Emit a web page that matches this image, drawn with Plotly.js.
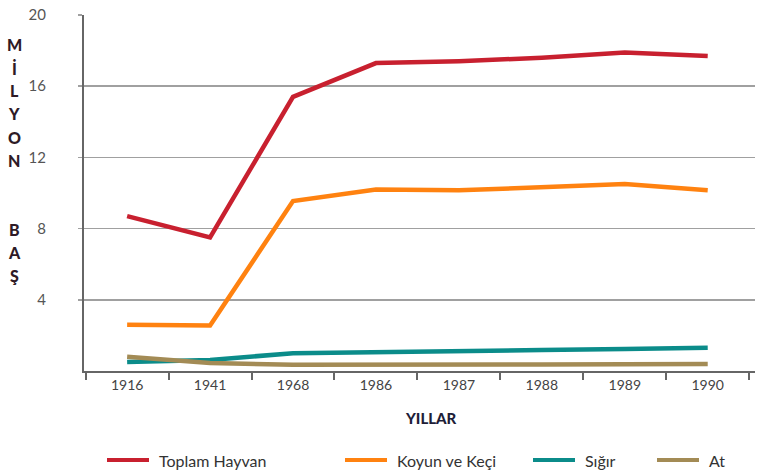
<!DOCTYPE html>
<html><head><meta charset="utf-8">
<script src="https://cdn.plot.ly/plotly-3.0.1.min.js"></script>
<style>body{margin:0;background:#fff}#c{width:759px;height:471px}</style>
</head><body><div id="c"></div>
<script>
const years = ["1916","1941","1968","1986","1987","1988","1989","1990"];
const toplamHayvan = [8.7, 7.5, 15.4, 17.3, 17.4, 17.6, 17.9, 17.7];
const koyunKeci   = [2.6, 2.55, 9.55, 10.2, 10.15, 10.3, 10.5, 10.15];
const sigir       = [0.5, 0.62, 1.0, 1.08, 1.13, 1.18, 1.24, 1.3];
const at          = [0.8, 0.45, 0.35, 0.34, 0.35, 0.36, 0.38, 0.39];
const seriesNames = ["Toplam Hayvan", "Koyun ve Keçi", "Sığır", "At"];
const yTicks = [4, 8, 12, 16, 20];
const yLetters = ["M","İ","L","Y","O","N","","","B","A","Ş"];

const colors = ["#c8202f", "#ff8210", "#0b8c8a", "#a38b55"];
const vals = [toplamHayvan, koyunKeci, sigir, at];
const traces = vals.map((v,i)=>({
  x: years, y: v, type:"scatter", mode:"lines", name: seriesNames[i],
  line:{color:colors[i], width:4.5}, showlegend:false
}));

const plotL = 84, plotR = 755, plotT = 15, plotB = 371;
const W = plotR - plotL, H = plotB - plotT;
const px = x => (x - plotL) / W;
const py = y => (plotB - y) / H;

// custom legend (pixel positions)
const legLineStart = [107, 345, 533, 657];
const legLineLen = 42;
const legY = 460;
const shapes = [];
const annotations = [];
seriesNames.forEach((n,i)=>{
  shapes.push({type:"line", xref:"paper", yref:"paper",
    x0:px(legLineStart[i]), x1:px(legLineStart[i]+legLineLen), y0:py(legY), y1:py(legY),
    line:{color:colors[i], width:4}});
  annotations.push({text:n, xref:"paper", yref:"paper", x:px(legLineStart[i]+legLineLen+8), y:py(legY),
    xanchor:"left", yanchor:"middle", showarrow:false,
    font:{family:"Lato, sans-serif", size:16, color:"#333"}});
});
yLetters.forEach((t,i)=>{
  if(!t) return;
  annotations.push({text:t, xref:"paper", yref:"paper", x:px(14), y:py(45+i*23),
    xanchor:"center", yanchor:"middle", showarrow:false,
    font:{family:"Lato, sans-serif", size:16, color:"#2e1a26", weight:900}});
});
annotations.push({text:"YILLAR", xref:"paper", yref:"paper", x:px(431), y:py(418),
  xanchor:"center", yanchor:"middle", showarrow:false,
  font:{family:"Lato, sans-serif", size:15, color:"#1e1e38", weight:900}});

const layout = {
  width:759, height:471,
  margin:{l:plotL, r:759-plotR, t:plotT, b:471-plotB, autoexpand:false},
  paper_bgcolor:"#fff", plot_bgcolor:"#fff",
  showlegend:false,
  xaxis:{type:"category", range:[-0.52, 7.57], showgrid:false, zeroline:false,
    showline:true, linecolor:"#666", linewidth:2,
    ticks:"outside", tickson:"boundaries", ticklen:7, tickwidth:2, tickcolor:"#666",
    tickfont:{family:"Lato, sans-serif", size:14, color:"#444"}},
  yaxis:{range:[0,20], tickvals:yTicks, showgrid:true, gridcolor:"#a0a0a0", gridwidth:1.5,
    zeroline:false, showline:true, linecolor:"#666", linewidth:2,
    ticks:"outside", ticklen:4, tickwidth:1.5, tickcolor:"#a0a0a0",
    ticklabelstandoff:29,
    tickfont:{family:"Lato, sans-serif", size:15, color:"#555"}},
  shapes: shapes,
  annotations: annotations
};
Plotly.newPlot("c", traces, layout, {displayModeBar:false, staticPlot:true});
</script></body></html>
